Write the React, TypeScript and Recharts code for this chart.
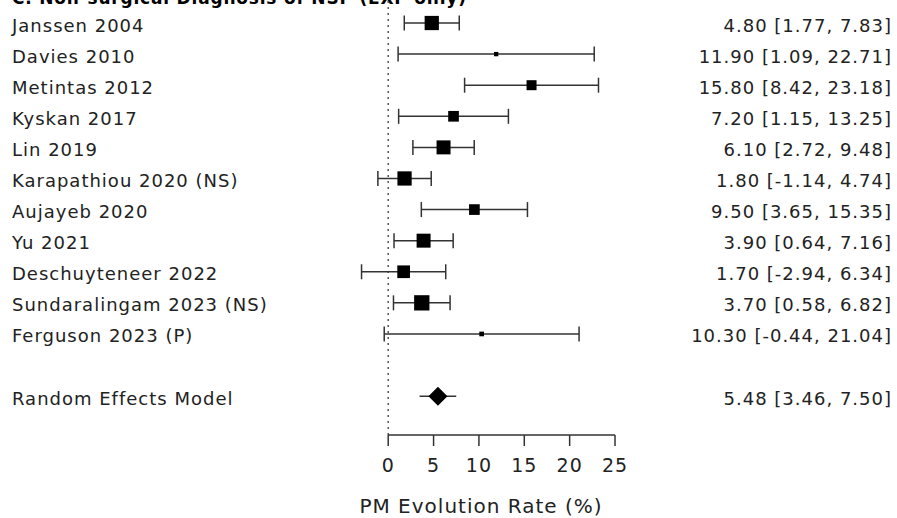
import React from 'react'
import { ScatterChart, Scatter, XAxis, YAxis, ErrorBar, ReferenceLine } from 'recharts'

// study-level results
const studies = [
  'Janssen 2004',
  'Davies 2010',
  'Metintas 2012',
  'Kyskan 2017',
  'Lin 2019',
  'Karapathiou 2020 (NS)',
  'Aujayeb 2020',
  'Yu 2021',
  'Deschuyteneer 2022',
  'Sundaralingam 2023 (NS)',
  'Ferguson 2023 (P)',
]
const estimates = [4.8, 11.9, 15.8, 7.2, 6.1, 1.8, 9.5, 3.9, 1.7, 3.7, 10.3]
const lower = [1.77, 1.09, 8.42, 1.15, 2.72, -1.14, 3.65, 0.64, -2.94, 0.58, -0.44]
const upper = [7.83, 22.71, 23.18, 13.25, 9.48, 4.74, 15.35, 7.16, 6.34, 6.82, 21.04]
// relative weights (%)
const weights = [13.0, 1.2, 6.4, 7.3, 12.5, 13.0, 7.3, 12.5, 10.3, 15.0, 1.4]

// pooled result
const pooledLabel = 'Random Effects Model'
const pooledEstimate = 5.48
const pooledLower = 3.46
const pooledUpper = 7.5

const xTicks = [0, 5, 10, 15, 20, 25]
const xLabel = 'PM Evolution Rate (%)'
const title = 'C. Non-surgical Diagnosis of NSP (EXP only)'

const FONT = '"DejaVu Sans", Verdana, sans-serif'
const MAX_BOX = 15.3
const maxWeight = Math.max(...weights)
const pooledRow = studies.length + 1
const yTop = -0.74
const yBottom = 13.25

const fmt = (est: number, lo: number, hi: number) =>
  `${est.toFixed(2)} [${lo.toFixed(2)}, ${hi.toFixed(2)}]`

const studyData = studies.map((name, i) => ({
  row: i,
  label: name,
  est: estimates[i],
  err: [estimates[i] - lower[i], upper[i] - estimates[i]],
  weight: weights[i],
  summary: fmt(estimates[i], lower[i], upper[i]),
}))

const pooledData = [
  {
    row: pooledRow,
    label: pooledLabel,
    est: pooledEstimate,
    err: [pooledEstimate - pooledLower, pooledUpper - pooledEstimate],
    summary: fmt(pooledEstimate, pooledLower, pooledUpper),
  },
]

const allRows = [...studyData, ...pooledData]
const rowTicks = allRows.map(r => r.row)

const RowTick = (props: any) => {
  const { y, payload } = props
  const r = allRows.find(d => d.row === payload.value)
  if (!r) return null
  const textProps = { fontFamily: FONT, fontSize: 18, letterSpacing: 1, fill: '#222' }
  return (
    <g>
      <text x={12} y={y + 8.5} textAnchor="start" {...textProps}>{r.label}</text>
      <text x={892} y={y + 8.5} textAnchor="end" {...textProps}>{r.summary}</text>
    </g>
  )
}

const StudyBox = (props: any) => {
  const { cx, cy, payload } = props
  const side = MAX_BOX * Math.sqrt(payload.weight / maxWeight)
  return <rect x={cx - side / 2} y={cy - side / 2} width={side} height={side} fill="#000" />
}

const PooledDiamond = (props: any) => {
  const { cx, cy } = props
  const h = 9.5
  return <polygon points={`${cx - h},${cy} ${cx},${cy - h} ${cx + h},${cy} ${cx},${cy + h}`} fill="#000" />
}

export default function App() {
  return (
    <div style={{ position: 'absolute', left: 0, top: 0, width: 897, height: 518, background: '#fff' }}>
      <svg width={897} height={20} style={{ position: 'absolute', left: 0, top: 0 }}>
        <text x={12} y={4} fontFamily={FONT} fontWeight="bold" fontSize={17} letterSpacing={0.8} fill="#000">
          {title}
        </text>
      </svg>
      <ScatterChart width={897} height={518} margin={{ top: 0, right: 282, bottom: 0, left: 0 }}>
        <XAxis
          type="number"
          dataKey="est"
          domain={[-3, 25]}
          ticks={xTicks}
          allowDataOverflow
          axisLine={false}
          tickLine={{ stroke: '#333', strokeWidth: 1.5 }}
          tickSize={11}
          tickMargin={13}
          height={83}
          tick={{ fontFamily: FONT, fontSize: 19, letterSpacing: 1, fill: '#222' }}
          label={{
            content: () => (
              <text x={481} y={513} textAnchor="middle" fontFamily={FONT} fontSize={20} letterSpacing={1} fill="#222">
                {xLabel}
              </text>
            ),
          }}
        />
        <YAxis
          type="number"
          dataKey="row"
          domain={[yTop, yBottom]}
          reversed
          allowDataOverflow
          ticks={rowTicks}
          interval={0}
          width={361}
          axisLine={false}
          tickLine={false}
          tick={<RowTick />}
        />
        <ReferenceLine x={0} stroke="#555" strokeWidth={1.5} strokeDasharray="2 4" />
        <ReferenceLine
          segment={[{ x: 0, y: yBottom }, { x: 25, y: yBottom }]}
          stroke="#333"
          strokeWidth={1.5}
          ifOverflow="visible"
        />
        <Scatter data={studyData} shape={<StudyBox />} isAnimationActive={false}>
          <ErrorBar dataKey="err" direction="x" width={7.5} stroke="#333" strokeWidth={1.5} isAnimationActive={false} />
        </Scatter>
        <Scatter data={pooledData} shape={<PooledDiamond />} isAnimationActive={false}>
          <ErrorBar dataKey="err" direction="x" width={0} stroke="#333" strokeWidth={1.5} isAnimationActive={false} />
        </Scatter>
      </ScatterChart>
    </div>
  )
}
